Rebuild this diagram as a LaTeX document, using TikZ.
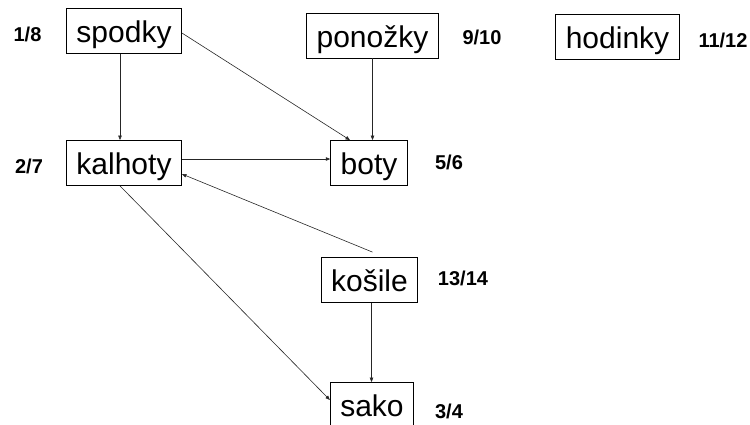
\documentclass[tikz,border=0pt]{standalone}
\usepackage{fontspec}
\setmainfont{Liberation Sans}
\usetikzlibrary{arrows.meta}
\begin{document}
\begin{tikzpicture}[x=1pt,y=-1pt,
  item/.style={draw=black,line width=0.8pt,inner xsep=10pt,inner ysep=4pt,
    text height=30pt,text depth=7pt,font=\fontsize{30}{36}\selectfont},
  order/.style={font=\bfseries\fontsize{20}{24}\selectfont},
  arr/.style={draw=black!85,line width=0.6pt,-{Triangle[length=4.5pt,width=3.5pt]}}]
\useasboundingbox (0,0) rectangle (750,424);

% garments
\node[item] (spodky)  at (124,31)    {spodky};
\node[item] (kalhoty) at (124,163)   {kalhoty};
\node[item] (ponozky) at (372.5,35.5){ponožky};
\node[item] (hodinky) at (617.5,37)  {hodinky};
\node[item] (boty)    at (369,163)   {boty};
\node[item] (kosile)  at (369.5,280) {košile};
\node[item] (sako)    at (372,405)   {sako};

% discovery / finishing times
\node[order] (t18)   at (27.5,34) {1/8};
\node[order] (t27)   at (29,166)  {2/7};
\node[order] (t910)  at (482,37)  {9/10};
\node[order] (t1112) at (723,40)  {11/12};
\node[order] (t56)   at (449,162) {5/6};
\node[order] (t1314) at (463,278) {13/14};
\node[order] (t34)   at (449,411) {3/4};

% dependencies
\draw[arr] ([xshift=-4pt]spodky.south) -- ([xshift=-4pt]kalhoty.north);
\draw[arr] ([yshift=-2pt]spodky.east) -- ([xshift=-19pt]boty.north);
\draw[arr] (ponozky.south) -- (ponozky.south |- boty.north);
\draw[arr] ([yshift=4pt]kalhoty.east) -- ([yshift=4pt]boty.west);
\draw[arr] ([xshift=3pt,yshift=5pt]kosile.north) -- ([yshift=-11pt]kalhoty.east);
\draw[arr] ([xshift=-4pt]kalhoty.south) -- ([yshift=5pt]sako.west);
\draw[arr] ([xshift=2pt]kosile.south) -- ([xshift=2pt]kosile.south |- sako.north);
\end{tikzpicture}
\end{document}
